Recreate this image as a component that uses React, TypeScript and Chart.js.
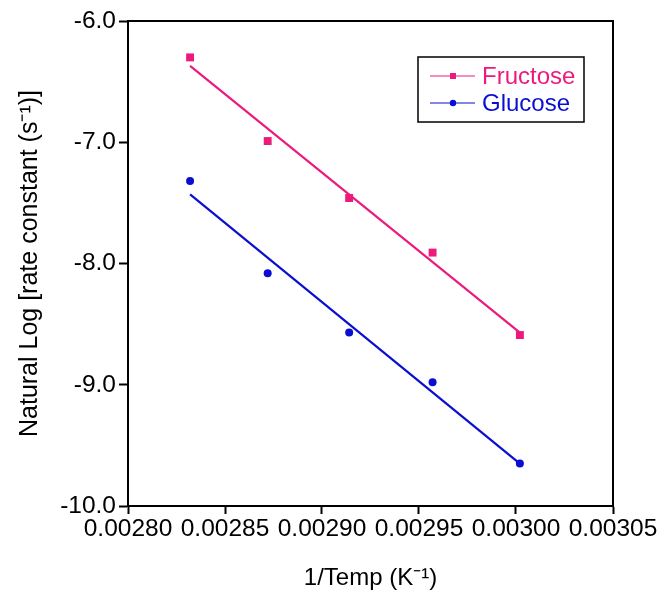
import React, { useEffect, useRef } from 'react';
import { Chart, registerables } from 'chart.js';

Chart.register(...registerables);

const seriesNames = ['Fructose', 'Glucose'];
const invTemp = [0.002832, 0.002872, 0.002914, 0.002957, 0.003002];
const fructoseLnK = [-6.3, -6.99, -7.46, -7.91, -8.59];
const glucoseLnK = [-7.32, -8.08, -8.57, -8.98, -9.65];
const fitInvTemp = [0.002832, 0.003002];
const fructoseFit = [-6.37, -8.57];
const glucoseFit = [-7.43, -9.65];
const xTickValues = [0.0028, 0.00285, 0.0029, 0.00295, 0.003, 0.00305];
const xTickLabels = ['0.00280', '0.00285', '0.00290', '0.00295', '0.00300', '0.00305'];
const yTickValues = [-10, -9, -8, -7, -6];
const yTickLabels = ['-10.0', '-9.0', '-8.0', '-7.0', '-6.0'];
const xTitle = '1/Temp (K⁻¹)';
const yTitle = 'Natural Log [rate constant (s⁻¹)]';
const seriesColors = ['#EC1A7D', '#0A0ED0'];
const markerStyles = ['rect', 'circle'];

const FONT = "'Liberation Sans', Arial, Helvetica, sans-serif";

const framePlugin = {
  id: 'frameAndLegend',
  afterDraw(chart: any) {
    const { ctx, chartArea: a } = chart;
    ctx.save();
    ctx.strokeStyle = '#000';
    ctx.lineWidth = 2;
    ctx.beginPath();
    ctx.moveTo(a.left, a.top);
    ctx.lineTo(a.right, a.top);
    ctx.lineTo(a.right, a.bottom);
    ctx.stroke();

    // legend
    const bx = a.right - 195;
    const by = a.top + 36;
    const bw = 166;
    const bh = 65;
    ctx.fillStyle = '#fff';
    ctx.fillRect(bx, by, bw, bh);
    ctx.lineWidth = 1.5;
    ctx.strokeStyle = '#000';
    ctx.strokeRect(bx, by, bw, bh);
    const rows = [by + 19, by + 46];
    seriesNames.forEach((name, i) => {
      const y = rows[i];
      const c = seriesColors[i];
      ctx.strokeStyle = c;
      ctx.fillStyle = c;
      ctx.lineWidth = 1;
      ctx.beginPath();
      ctx.moveTo(bx + 12, y);
      ctx.lineTo(bx + 57, y);
      ctx.stroke();
      if (markerStyles[i] === 'rect') {
        ctx.fillRect(bx + 35 - 3, y - 3, 6, 6);
      } else {
        ctx.beginPath();
        ctx.arc(bx + 35, y, 3.2, 0, Math.PI * 2);
        ctx.fill();
      }
      ctx.font = `24px ${FONT}`;
      ctx.textBaseline = 'middle';
      ctx.textAlign = 'left';
      ctx.fillText(name, bx + 64, y + 1);
    });
    ctx.restore();
  },
};

export default function App() {
  const ref = useRef<HTMLCanvasElement | null>(null);

  useEffect(() => {
    if (!ref.current) return;
    const chart = new Chart(ref.current, {
      type: 'scatter',
      data: {
        datasets: [
          {
            label: seriesNames[0],
            data: invTemp.map((x, i) => ({ x, y: fructoseLnK[i] })),
            pointStyle: 'rect',
            pointRadius: 5.6,
            backgroundColor: seriesColors[0],
            borderColor: seriesColors[0],
            borderWidth: 0,
            showLine: false,
          },
          {
            label: seriesNames[1],
            data: invTemp.map((x, i) => ({ x, y: glucoseLnK[i] })),
            pointStyle: 'circle',
            pointRadius: 4,
            backgroundColor: seriesColors[1],
            borderColor: seriesColors[1],
            borderWidth: 0,
            showLine: false,
          },
          {
            label: seriesNames[0] + ' fit',
            data: fitInvTemp.map((x, i) => ({ x, y: fructoseFit[i] })),
            showLine: true,
            pointRadius: 0,
            borderColor: seriesColors[0],
            borderWidth: 2.2,
            fill: false,
          },
          {
            label: seriesNames[1] + ' fit',
            data: fitInvTemp.map((x, i) => ({ x, y: glucoseFit[i] })),
            showLine: true,
            pointRadius: 0,
            borderColor: seriesColors[1],
            borderWidth: 2.2,
            fill: false,
          },
        ],
      },
      options: {
        responsive: false,
        animation: false,
        devicePixelRatio: 1,
        layout: { padding: { left: 0, top: 21, right: 57, bottom: 0 } },
        plugins: {
          legend: { display: false },
          tooltip: { enabled: false },
        },
        scales: {
          x: {
            type: 'linear',
            min: 0.0028,
            max: 0.00305,
            afterBuildTicks: (s: any) => {
              s.ticks = xTickValues.map((v) => ({ value: v }));
            },
            afterFit: (s: any) => {
              s.height = 94;
            },
            ticks: {
              callback: (_v: any, i: number) => xTickLabels[i],
              color: '#000',
              font: { family: FONT, size: 24.5 },
              padding: 1,
              maxRotation: 0,
              minRotation: 0,
              autoSkip: false,
            },
            grid: {
              drawOnChartArea: false,
              drawTicks: true,
              tickLength: 8,
              tickWidth: 2,
              tickColor: '#000',
            },
            border: { display: true, color: '#000', width: 2 },
            title: {
              display: true,
              text: xTitle,
              color: '#000',
              font: { family: FONT, size: 24 },
              padding: { top: 0, bottom: 7 },
            },
          },
          y: {
            type: 'linear',
            min: -10,
            max: -6,
            afterBuildTicks: (s: any) => {
              s.ticks = yTickValues.map((v) => ({ value: v }));
            },
            afterFit: (s: any) => {
              s.width = 128;
            },
            ticks: {
              callback: (_v: any, i: number) => yTickLabels[i],
              color: '#000',
              font: { family: FONT, size: 24.5 },
              padding: 3,
              autoSkip: false,
            },
            grid: {
              drawOnChartArea: false,
              drawTicks: true,
              tickLength: 9,
              tickWidth: 2,
              tickColor: '#000',
            },
            border: { display: true, color: '#000', width: 2 },
            title: {
              display: true,
              text: yTitle,
              color: '#000',
              font: { family: FONT, size: 25 },
              padding: { top: 15, bottom: 0 },
            },
          },
        },
      },
      plugins: [framePlugin],
    } as any);
    return () => chart.destroy();
  }, []);

  return (
    <div style={{ position: 'absolute', left: 0, top: 0, width: 670, height: 600, background: '#fff' }}>
      <canvas ref={ref} width={670} height={600} style={{ display: 'block' }} />
    </div>
  );
}
